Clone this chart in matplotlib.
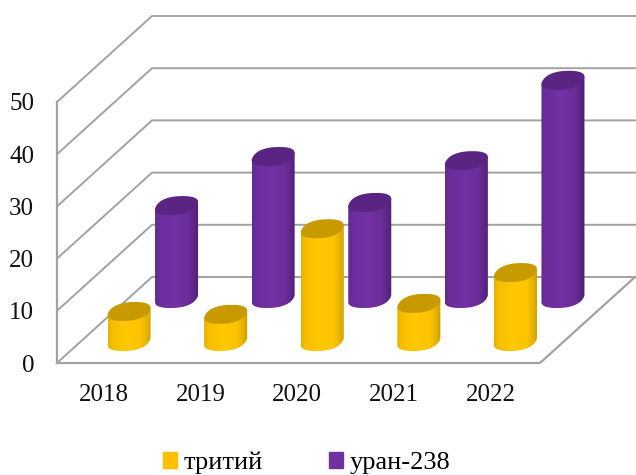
import numpy as np
import matplotlib.pyplot as plt
from matplotlib.colors import LinearSegmentedColormap
from matplotlib.patches import Patch, Polygon

years = ['2018', '2019', '2020', '2021', '2022']
tritium = [5.75, 5.2, 21.6, 7.3, 13.2]
uranium = [17.8, 27.2, 18.4, 26.4, 41.8]
value_ticks = [0, 10, 20, 30, 40, 50]

W, H = 636, 475
PX_X = 96.6   # pixels per category
PX_Y = 5.22   # pixels per value unit
DX = 95 / PX_X   # shift of the back wall
DY = 86 / PX_Y
GRID = '#a2a2a2'

plt.rcParams['font.family'] = ['Liberation Serif', 'DejaVu Serif']

fig = plt.figure(figsize=(W / 100, H / 100), dpi=100)
left, right, top, bottom = 57, 636, 10, 363
ax = fig.add_axes([left / W, 1 - bottom / H, (right - left) / W, (bottom - top) / H])
xlim = (0, (right - left) / PX_X)
ylim = (0, (bottom - top) / PX_Y)


def wall_lines():
    n = len(years)
    for v in value_ticks:
        ax.plot([0, DX, n + DX], [v, v + DY, v + DY], color=GRID, lw=1.4,
                clip_on=False, zorder=1, solid_joinstyle='miter')
    ax.plot([0, 0], [0, value_ticks[-1]], color=GRID, lw=1.6, clip_on=False, zorder=1)
    ax.plot([0, n, n + DX], [0, 0, DY], color=GRID, lw=1.6, clip_on=False, zorder=1)


def cap_shape():
    # squarish oblique circle, tilted along the depth direction
    t = np.linspace(0, 2 * np.pi, 240, endpoint=False)
    u = np.sign(np.cos(t)) * np.abs(np.cos(t)) ** 0.85
    v = np.sign(np.sin(t)) * np.abs(np.sin(t)) ** 0.85
    x = u + 0.3 * v
    x = x / x.max() * 0.2226
    y = v * 1.82
    return x, y


def cylinder(cat, depth, value, cmap, cap, z):
    cx = cat + 0.5 + depth * DX
    cy = depth * DY
    ex, ey = cap_shape()
    ir = np.argmax(ex)
    il = np.argmin(ex)
    # lower arc of the base runs from the left extreme on to the right one
    lower = np.arange(il, il + (ir - il) % len(ex) + 1) % len(ex)
    bx = cx + ex[lower]
    by = cy + ey[lower]
    outline = np.column_stack([np.r_[bx, cx + ex[ir], cx + ex[il]],
                               np.r_[by, cy + value + ey[ir], cy + value + ey[il]]])
    body = Polygon(outline, closed=True, fc='none', ec='none', zorder=z)
    ax.add_patch(body)
    grad = np.linspace(0, 1, 128).reshape(1, -1)
    im = ax.imshow(grad, cmap=cmap, aspect='auto', zorder=z, interpolation='bilinear',
                   extent=(bx.min(), bx.max(), by.min() - 1, cy + value + 3))
    im.set_clip_path(body)
    ax.fill(cx + ex, cy + value + ey, color=cap, lw=0, zorder=z + 0.1)


yellow = LinearSegmentedColormap.from_list('y', [(0, '#e3b000'), (0.1, '#f5bf00'), (0.4, '#ffc800'),
                                                 (0.75, '#fcc500'), (0.92, '#e0ae00'), (1, '#c49a00')])
purple = LinearSegmentedColormap.from_list('p', [(0, '#632b90'), (0.12, '#6b2e9b'), (0.45, '#7431a4'),
                                                 (0.78, '#6a2d97'), (0.93, '#572581'), (1, '#4a2170')])

wall_lines()
for i in range(len(years)):
    cylinder(i, 0.75, uranium[i], purple, '#5a2482', 3)
for i in range(len(years)):
    cylinder(i, 0.25, tritium[i], yellow, '#c89a00', 5)

ax.set_xlim(xlim)
ax.set_ylim(ylim)
ax.set_xticks(np.arange(len(years)) + 0.5 - 0.012, years)
ax.set_yticks(value_ticks)
ax.tick_params(axis='x', length=0, pad=15, labelsize=18, colors='#111111')
ax.tick_params(axis='y', length=0, pad=16.5, labelsize=18, colors='#111111')
for s in ax.spines.values():
    s.set_visible(False)
ax.patch.set_alpha(0)

handles = [Patch(color='#ffc000', label='тритий'), Patch(color='#7030a0', label='уран-238')]
fig.legend(handles=handles, ncol=2, loc='center', bbox_to_anchor=(306.5 / W, 1 - 463 / H),
           frameon=False, fontsize=19, handlelength=0.53, handleheight=0.55,
           handletextpad=0.25, columnspacing=2.5, borderpad=0, borderaxespad=0)

fig.savefig('out.png', dpi=100, facecolor='white')
